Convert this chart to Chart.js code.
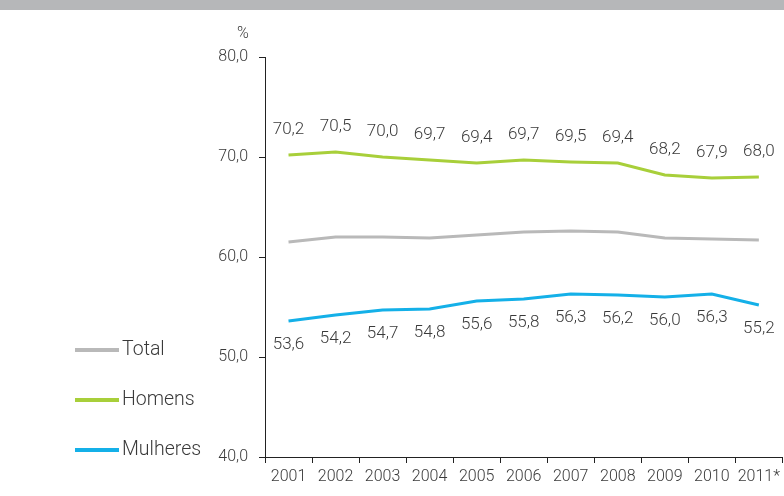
<!DOCTYPE html>
<html>
<head>
<meta charset="utf-8">
<script src="https://cdn.jsdelivr.net/npm/chart.js@4.4.1/dist/chart.umd.min.js"></script>
<style>
  html, body { margin: 0; padding: 0; background: #fff; }
  #wrap { width: 784px; height: 496px; }
</style>
</head>
<body>
<div id="wrap"><canvas id="taxaChart"></canvas></div>
<script>
const years = ["2001", "2002", "2003", "2004", "2005", "2006", "2007", "2008", "2009", "2010", "2011*"];
const total = [61.5, 62.0, 62.0, 61.9, 62.2, 62.5, 62.6, 62.5, 61.9, 61.8, 61.7];
const homens = [70.2, 70.5, 70.0, 69.7, 69.4, 69.7, 69.5, 69.4, 68.2, 67.9, 68.0];
const mulheres = [53.6, 54.2, 54.7, 54.8, 55.6, 55.8, 56.3, 56.2, 56.0, 56.3, 55.2];

const grey = "#b9b9b9";
const lime = "#a8cf3a";
const sky = "#14b0e8";
const textColor = "#3a3a3a";
const fontFamily = "Roboto, 'Open Sans', sans-serif";

const fmt = (v) => v.toFixed(1).replace(".", ",");

// grey band across the top + "%" unit over the y axis
const frame = {
  id: "frame",
  beforeDraw(chart) {
    const { ctx } = chart;
    ctx.save();
    ctx.fillStyle = "#b6b7b9";
    ctx.fillRect(0, 0, chart.width, 10);
    const y = chart.scales.y;
    ctx.fillStyle = textColor;
    ctx.font = "300 16px " + fontFamily;
    ctx.textAlign = "center";
    ctx.textBaseline = "middle";
    ctx.fillText("%", y.right - 22, y.top - 23);
    ctx.restore();
  },
};

// values above Homens, below Mulheres
const valueLabels = {
  id: "valueLabels",
  afterDatasetsDraw(chart) {
    const { ctx } = chart;
    ctx.save();
    ctx.fillStyle = textColor;
    ctx.font = "300 17px " + fontFamily;
    ctx.textAlign = "center";
    ctx.textBaseline = "middle";
    chart.data.datasets.forEach((ds, i) => {
      if (!ds.labelSide) return;
      const meta = chart.getDatasetMeta(i);
      meta.data.forEach((pt, j) => {
        const dy = ds.labelSide === "above" ? -25 : 24;
        ctx.fillText(fmt(ds.data[j]), pt.x, pt.y + dy);
      });
    });
    ctx.restore();
  },
};

// legend stacked at the lower left
const sideLegend = {
  id: "sideLegend",
  afterDraw(chart) {
    const { ctx } = chart;
    ctx.save();
    ctx.font = "300 19.5px " + fontFamily;
    ctx.textBaseline = "middle";
    chart.data.datasets.forEach((ds, i) => {
      const y = 350 + i * 50;
      ctx.strokeStyle = ds.borderColor;
      ctx.lineWidth = 4;
      ctx.beginPath();
      ctx.moveTo(75, y);
      ctx.lineTo(119, y);
      ctx.stroke();
      ctx.fillStyle = textColor;
      ctx.fillText(ds.label, 122, y);
    });
    ctx.restore();
  },
};

new Chart(document.getElementById("taxaChart"), {
  type: "line",
  data: {
    labels: years,
    datasets: [
      { label: "Total", data: total, borderColor: grey },
      { label: "Homens", data: homens, borderColor: lime, labelSide: "above" },
      { label: "Mulheres", data: mulheres, borderColor: sky, labelSide: "below" },
    ],
  },
  options: {
    responsive: true,
    maintainAspectRatio: false,
    animation: false,
    layout: {
      padding: { left: 205, top: 57, right: 0, bottom: 0 },
    },
    elements: {
      line: { borderWidth: 3, tension: 0 },
      point: { radius: 0 },
    },
    plugins: {
      legend: { display: false },
      title: { display: false },
      tooltip: { enabled: false },
    },
    scales: {
      x: {
        offset: true,
        afterFit: (s) => { s.height = 39; },
        grid: {
          offset: true,
          drawOnChartArea: false,
          drawTicks: true,
          tickLength: 6,
          color: "#222",
        },
        border: { display: true, color: "#222", width: 1 },
        ticks: {
          color: textColor,
          font: { family: fontFamily, size: 16, weight: 300 },
          padding: 4,
          maxRotation: 0,
          autoSkip: false,
        },
      },
      y: {
        min: 40,
        max: 80,
        afterFit: (s) => { s.width = 60; },
        grid: {
          drawOnChartArea: false,
          drawTicks: true,
          tickLength: 6,
          color: "#222",
        },
        border: { display: true, color: "#222", width: 1 },
        ticks: {
          stepSize: 10,
          color: textColor,
          font: { family: fontFamily, size: 16, weight: 300 },
          padding: 11,
          callback: (v) => fmt(v),
        },
      },
    },
  },
  plugins: [frame, valueLabels, sideLegend],
});
</script>
</body>
</html>
